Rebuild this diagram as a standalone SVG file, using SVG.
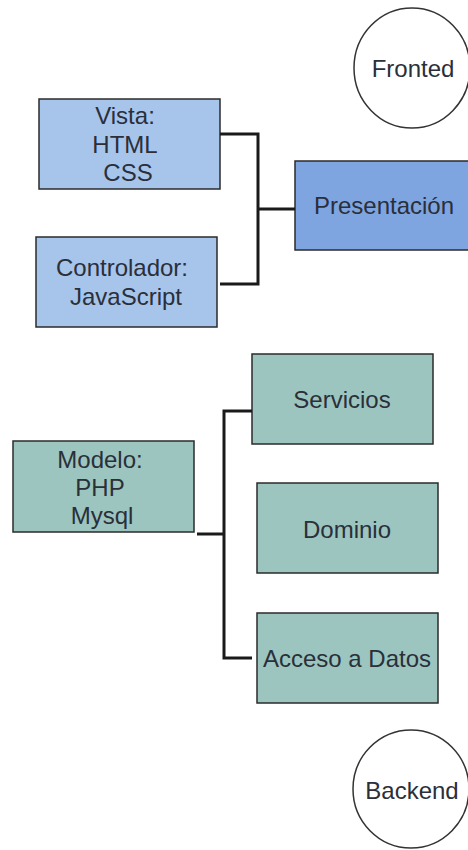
<svg xmlns="http://www.w3.org/2000/svg" width="468" height="850" viewBox="0 0 468 850">
  <style>
    .box { stroke: #2b2b2b; stroke-width: 1.5; }
    .front { fill: #a7c4eb; }
    .pres { fill: #7ea5e0; }
    .back { fill: #9cc5bf; }
    .circle { fill: #ffffff; stroke: #333333; stroke-width: 1.5; }
    .lbl { font-family: "Liberation Sans", Arial, sans-serif; font-size: 24px; fill: #2a2f3a; text-anchor: middle; }
    .wire { fill: none; stroke: #1a1a1a; stroke-width: 3; }
  </style>
  <rect width="468" height="850" fill="#ffffff"/>

  <g id="fronted">
    <ellipse class="circle" cx="412" cy="68" rx="58" ry="60"/>
    <text class="lbl" x="413" y="77">Fronted</text>
  </g>

  <g id="vista">
    <rect class="box front" x="39" y="99" width="181" height="90"/>
    <text class="lbl" x="125" y="124">Vista:</text>
    <text class="lbl" x="125" y="153">HTML</text>
    <text class="lbl" x="128" y="181">CSS</text>
  </g>

  <g id="controlador">
    <rect class="box front" x="36" y="237" width="181" height="90"/>
    <text class="lbl" x="122" y="276">Controlador:</text>
    <text class="lbl" x="126" y="305">JavaScript</text>
  </g>

  <g id="presentacion">
    <rect class="box pres" x="295" y="161" width="180" height="89"/>
    <text class="lbl" x="384" y="214">Presentación</text>
  </g>

  <g id="modelo">
    <rect class="box back" x="13" y="441" width="181" height="91"/>
    <text class="lbl" x="100" y="468">Modelo:</text>
    <text class="lbl" x="100" y="496">PHP</text>
    <text class="lbl" x="102" y="524">Mysql</text>
  </g>

  <g id="servicios">
    <rect class="box back" x="252" y="354" width="181" height="90"/>
    <text class="lbl" x="342" y="408">Servicios</text>
  </g>

  <g id="dominio">
    <rect class="box back" x="257" y="483" width="181" height="90"/>
    <text class="lbl" x="347" y="538">Dominio</text>
  </g>

  <g id="acceso">
    <rect class="box back" x="257" y="613" width="181" height="90"/>
    <text class="lbl" x="347" y="667">Acceso a Datos</text>
  </g>

  <g id="backend">
    <ellipse class="circle" cx="411" cy="789" rx="58" ry="59"/>
    <text class="lbl" x="412" y="799">Backend</text>
  </g>

  <g id="connectors">
    <path class="wire" d="M220 134 H258 V284 H220"/>
    <path class="wire" d="M258 209 H295"/>
    <path class="wire" d="M252 411 H224 V658 H252"/>
    <path class="wire" d="M197 534 H224"/>
  </g>
</svg>
